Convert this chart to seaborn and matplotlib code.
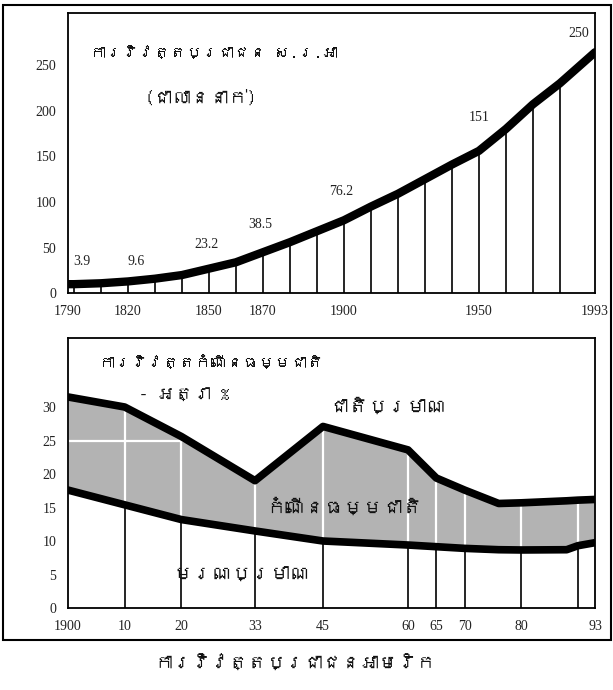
import numpy as np
import pandas as pd
import matplotlib
matplotlib.use("Agg")
import matplotlib.pyplot as plt
import seaborn as sns
from matplotlib import font_manager
from matplotlib.ft2font import FT2Font
from matplotlib.patches import Rectangle

# ---------------- data ----------------
pop_years = [1790, 1800, 1810, 1820, 1830, 1840, 1850, 1860, 1870, 1880, 1890,
             1900, 1910, 1920, 1930, 1940, 1950, 1960, 1970, 1980, 1993]
pop_values = [10, 10, 11, 13, 16, 20, 27, 34, 45, 56, 68,
              80, 95, 109, 125, 141, 156, 180, 207, 230, 264]
pop_label_texts = ["3.9", "9.6", "23.2", "38.5", "76.2", "151", "250"]
pop_xticks = [1790, 1820, 1850, 1870, 1900, 1950, 1993]
pop_xticklabels = ["1790", "1820", "1850", "1870", "1900", "1950", "1993"]
pop_yticks = [0, 50, 100, 150, 200, 250]
pop_vline_years = [1800, 1810, 1820, 1830, 1840, 1850, 1860, 1870, 1880, 1890,
                   1900, 1910, 1920, 1930, 1940, 1950, 1960, 1970, 1980]

rate_years = [1900, 1910, 1920, 1933, 1945, 1960, 1965, 1970, 1976, 1980, 1988, 1990, 1993]
birth_rate = [31.5, 30.0, 25.6, 19.0, 27.1, 23.6, 19.4, 17.6, 15.6, 15.7, 16.0, 16.1, 16.2]
death_rate = [17.6, 15.4, 13.2, 11.5, 10.0, 9.4, 9.15, 8.9, 8.7, 8.66, 8.7, 9.3, 9.75]
rate_xticks = [1900, 1910, 1920, 1933, 1945, 1960, 1965, 1970, 1980, 1993]
rate_xticklabels = ["1900", "10", "20", "33", "45", "60", "65", "70", "80", "93"]
rate_yticks = [0, 5, 10, 15, 20, 25, 30]
rate_vline_years = [1910, 1920, 1933, 1945, 1960, 1965, 1970, 1980, 1990]

title_top_1 = "ការវិវត្តប្រជាជន ស.រ.អា"
title_top_2 = "(ជាលាននាក់)"
title_bot_1 = "ការវិវត្តកំណើនធម្មជាតិ"
title_bot_2 = "- អត្រា %"
label_birth = "ជាតិប្រមាណ"
label_natural = "កំណើនធម្មជាតិ"
label_death = "មរណប្រមាណ"
caption = "ការវិវត្តប្រជាជនអាមេរិក"

# ---------------- fonts ----------------
sns.set_theme(style="white")

def find_font(ch):
    for f in font_manager.fontManager.ttflist:
        try:
            if ord(ch) in FT2Font(f.fname).get_charmap():
                return f.name
        except Exception:
            pass
    return None

khmer_font = find_font("\u1780")
num_family = ["Liberation Serif", "DejaVu Serif"]
kh_family = ([khmer_font] if khmer_font else []) + ["Liberation Serif", "DejaVu Sans"]
plt.rcParams["font.family"] = kh_family

# ---------------- figure ----------------
fig = plt.figure(figsize=(6.13, 6.9), dpi=100)
fig.patch.set_facecolor("white")
ax1 = fig.add_axes([68 / 613, 1 - 293.3 / 690, (595 - 68) / 613, (293.3 - 13) / 690])
ax2 = fig.add_axes([68 / 613, 1 - 608 / 690, (595 - 68) / 613, (608 - 338) / 690])

# piecewise scale for the top chart (first decade compressed)
k1 = 6 / 2.7 / 10.0

def fwd(x):
    x = np.asarray(x, dtype=float)
    return np.where(x < 1800, (x - 1790) * k1, 10 * k1 + (x - 1800))

def inv(u):
    u = np.asarray(u, dtype=float)
    return np.where(u < 10 * k1, 1790 + u / k1, 1800 + (u - 10 * k1))

ax1.set_xscale("function", functions=(fwd, inv))

pop_df = pd.DataFrame({"year": pop_years, "pop": pop_values})
pop_lookup = dict(zip(pop_years, pop_values))
ax1.vlines(pop_vline_years, 0, [pop_lookup[y] for y in pop_vline_years],
           color="black", lw=1.2, zorder=2)
sns.lineplot(data=pop_df, x="year", y="pop", ax=ax1, color="black",
             lw=6, solid_capstyle="round", zorder=3)

ax1.set_xlim(1790, 1993)
ax1.set_ylim(0, 307)
ax1.set_xticks(pop_xticks)
ax1.set_xticklabels(pop_xticklabels)
ax1.set_yticks(pop_yticks)
ax1.set_xlabel("")
ax1.set_ylabel("")

label_pos = [(1803, 35), (1823, 35), (1849, 53), (1869, 75), (1899, 111), (1950, 193), (1987, 285)]
for (lx, ly), t in zip(label_pos, pop_label_texts):
    ax1.text(lx, ly, t, ha="center", va="center", fontsize=10, family=num_family, color="#222222")

ax1.text(1806, 263, title_top_1, ha="left", va="center", fontsize=11.5, color="#111111")
ax1.text(1847, 214, title_top_2, ha="center", va="center", fontsize=13.5, color="#111111")

# ---------------- bottom chart ----------------
rate_df = pd.DataFrame({"year": rate_years, "birth": birth_rate, "death": death_rate})
ax2.fill_between(rate_years, death_rate, birth_rate, color="#b3b3b3", lw=0, zorder=1)
d_at = np.interp(rate_vline_years, rate_years, death_rate)
b_at = np.interp(rate_vline_years, rate_years, birth_rate)
ax2.vlines(rate_vline_years, d_at, b_at, color="white", lw=1.6, zorder=2)
ax2.hlines(25, 1900, 1921, color="white", lw=1.6, zorder=2)
ax2.vlines(rate_vline_years, 0, d_at, color="black", lw=1.2, zorder=2)
sns.lineplot(data=rate_df, x="year", y="birth", ax=ax2, color="black", lw=5.5, zorder=3)
sns.lineplot(data=rate_df, x="year", y="death", ax=ax2, color="black", lw=5.5, zorder=3)

ax2.set_xlim(1900, 1993)
ax2.set_ylim(0, 40.3)
ax2.set_xticks(rate_xticks)
ax2.set_xticklabels(rate_xticklabels)
ax2.set_yticks(rate_yticks)
ax2.set_xlabel("")
ax2.set_ylabel("")

ax2.text(1905.5, 36.6, title_bot_1, ha="left", va="center", fontsize=11.5, color="#111111")
ax2.text(1912.5, 31.7, title_bot_2, ha="left", va="center", fontsize=13, color="#111111")
ax2.text(1956.4, 30.2, label_birth, ha="center", va="center", fontsize=14, color="#111111")
ax2.text(1948.7, 15.2, label_natural, ha="center", va="center", fontsize=14,
         fontweight="bold", color="#111111", zorder=4)
ax2.text(1930.7, 4.9, label_death, ha="center", va="center", fontsize=14, color="#111111")

for ax in (ax1, ax2):
    for s in ax.spines.values():
        s.set_color("black")
        s.set_linewidth(1.3)
    ax.tick_params(axis="both", direction="inout", length=7, width=1.2, colors="black",
                   labelsize=10, pad=5)
    for lab in ax.get_xticklabels() + ax.get_yticklabels():
        lab.set_family(num_family)
        lab.set_color("#222222")
    ax.set_facecolor("white")
    ax.grid(False)

fig.text(295 / 613, 1 - 663 / 690, caption, ha="center", va="center", fontsize=13.5,
         fontweight="bold", fontstyle="italic", color="#111111")

fig.patches.append(Rectangle((3 / 613, 1 - 640 / 690), (611 - 3) / 613, (640 - 5) / 690,
                             transform=fig.transFigure, fill=False, edgecolor="black",
                             lw=1.5, zorder=0))

fig.savefig("out.png", dpi=100, facecolor="white")
